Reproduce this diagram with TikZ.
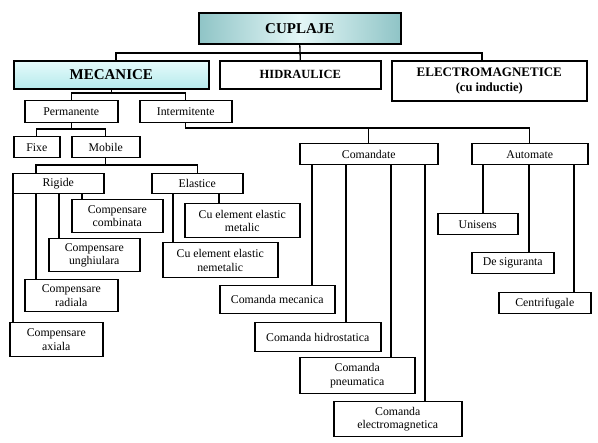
\documentclass[tikz,border=0pt]{standalone}
\usepackage{fontspec}
\setmainfont{Liberation Serif}
\definecolor{teal1}{HTML}{8FC4C6}
\definecolor{teal2}{HTML}{E4F7F7}
\definecolor{cyan1}{HTML}{E6FBFB}
\definecolor{cyan2}{HTML}{B6EAEC}
\begin{document}
\begin{tikzpicture}[x=1pt,y=-1pt,
  box/.style={draw, line width=1.5pt, inner sep=1pt, align=center, anchor=north west,
    font=\fontsize{11.8}{13.5}\selectfont},
  big/.style={box, line width=1.6pt, font=\fontsize{15}{16}\bfseries},
  conn/.style={line width=1.3pt}]
\useasboundingbox (0,0) rectangle (598,443);
% level 0-1
\node[big, minimum width=202pt, minimum height=31pt, left color=teal1, right color=teal1, middle color=teal2] (cup) at (198,12) {CUPLAJE};
\node[big, minimum width=195pt, minimum height=28pt, top color=cyan1, bottom color=cyan2] (mec) at (13,60) {MECANICE};
\node[big, minimum width=161pt, minimum height=28pt, font=\fontsize{12.5}{14}\bfseries] (hid) at (219,60) {HIDRAULICE};
\node[big, minimum width=195pt, minimum height=40pt, font=\fontsize{13}{14}\bfseries] (ele) at (391,60) {ELECTROMAGNETICE\\[1pt]{\fontsize{12.5}{14}\bfseries(cu inductie)}};
% level 2
\node[box, minimum width=93pt, minimum height=22pt] (perm) at (24,100) {Permanente};
\node[box, minimum width=92pt, minimum height=22pt] (inter) at (139,100) {Intermitente};
\node[box, minimum width=46pt, minimum height=21pt] (fixe) at (13,136) {Fixe};
\node[box, minimum width=68pt, minimum height=21pt] (mob) at (71,136) {Mobile};
\node[box, minimum width=91pt, minimum height=20pt] (rig) at (12,173) {Rigide};
\node[box, minimum width=91pt, minimum height=20pt] (ela) at (151,173) {Elastice};
\node[box, minimum width=91pt, minimum height=33pt] (ccomb) at (71,199) {Compensare\\combinata};
\node[box, minimum width=91pt, minimum height=33pt] (cung) at (48,238) {Compensare\\unghiulara};
\node[box, minimum width=93pt, minimum height=32pt] (crad) at (24,279) {Compensare\\radiala};
\node[box, minimum width=93pt, minimum height=34pt] (cax) at (9,322) {Compensare\\axiala};
\node[box, minimum width=115pt, minimum height=34pt] (cmet) at (184,203) {Cu element elastic\\metalic};
\node[box, minimum width=115pt, minimum height=35pt] (cnem) at (162,242) {Cu element elastic\\nemetalic};
\node[box, minimum width=138pt, minimum height=21pt] (coman) at (299,143) {Comandate};
\node[box, minimum width=116pt, minimum height=21pt] (auto) at (471,143) {Automate};
\node[box, minimum width=115pt, minimum height=28pt] (cmec) at (219,285) {Comanda mecanica};
\node[box, minimum width=126pt, minimum height=29pt] (chid) at (254,322) {Comanda hidrostatica};
\node[box, minimum width=115pt, minimum height=36pt] (cpn) at (299,357) {Comanda\\pneumatica};
\node[box, minimum width=128pt, minimum height=35pt] (cel) at (333,401) {Comanda\\electromagnetica};
\node[box, minimum width=80pt, minimum height=21pt] (uni) at (437,213) {Unisens};
\node[box, minimum width=82pt, minimum height=21pt] (desig) at (471,252) {De siguranta};
\node[box, minimum width=92pt, minimum height=21pt] (centr) at (498,292) {Centrifugale};
% connectors
\draw[conn] (cup.south) -- (hid.north);
\draw[conn] (mec.north -| 116,0) |- (482,53) -- (ele.north -| 482,0);
\draw[conn] (mec.south) -- (mec.south |- 0,93);
\draw[conn] (perm.north) |- (inter.north |- 0,93) -- (inter.north);
\draw[conn] (inter.south) |- (auto.north |- 0,128) -- (auto.north);
\draw[conn] (coman.north) -- (coman.north |- 0,128);
\draw[conn] (perm.south) -- (perm.south |- 0,129);
\draw[conn] (fixe.north) |- (mob.north |- 0,129) -- (mob.north);
\draw[conn] (mob.south) -- (mob.south |- 0,165);
\draw[conn] (rig.north -| 36,0) |- (ela.north |- 0,165) -- (ela.north);
\draw[conn] (rig.south -| 13,0) -- (cax.north -| 13,0);
\draw[conn] (rig.south -| 36,0) -- (crad.north -| 36,0);
\draw[conn] (rig.south -| 59,0) -- (cung.north -| 59,0);
\draw[conn] (rig.south -| 82,0) -- (ccomb.north -| 82,0);
\draw[conn] (ela.south -| 219,0) -- (cmet.north -| 219,0);
\draw[conn] (ela.south -| 173,0) -- (cnem.north -| 173,0);
\draw[conn] (coman.south -| 312,0) -- (cmec.north -| 312,0);
\draw[conn] (coman.south -| 346,0) -- (chid.north -| 346,0);
\draw[conn] (coman.south -| 391,0) -- (cpn.north -| 391,0);
\draw[conn] (coman.south -| 425,0) -- (cel.north -| 425,0);
\draw[conn] (auto.south -| 483,0) -- (uni.north -| 483,0);
\draw[conn] (auto.south -| 529,0) -- (desig.north -| 529,0);
\draw[conn] (auto.south -| 574,0) -- (centr.north -| 574,0);
\end{tikzpicture}
\end{document}
